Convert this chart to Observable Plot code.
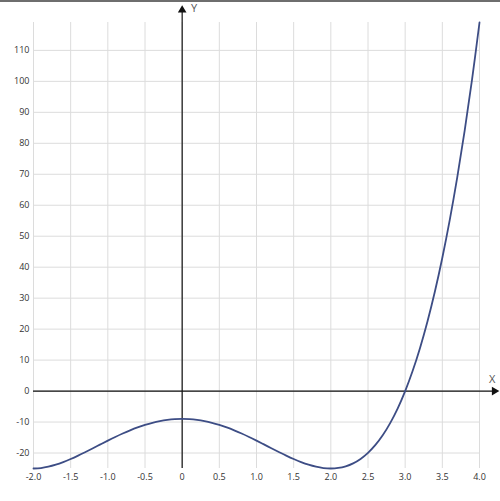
<!DOCTYPE html>
<html><head><meta charset="utf-8">
<script src="https://cdn.jsdelivr.net/npm/d3@7"></script>
<script src="https://cdn.jsdelivr.net/npm/@observablehq/plot@0.6"></script>
<style>
html,body{margin:0;padding:0;background:#fff;}
#chart{position:relative;width:500px;height:501px;overflow:hidden;}
#topline{position:absolute;left:0;top:0;width:500px;height:2px;background:#6e6e6e;z-index:5;}
</style></head><body><div id="chart"><div id="topline"></div></div>
<script>
const xValues = [-2,-1.9,-1.8,-1.7,-1.6,-1.5,-1.4,-1.3,-1.2,-1.1,-1,-0.9,-0.8,-0.7,-0.6,-0.5,-0.4,-0.3,-0.2,-0.1,0,
  0.1,0.2,0.3,0.4,0.5,0.6,0.7,0.8,0.9,1,1.1,1.2,1.3,1.4,1.5,1.6,1.7,1.8,1.9,2,
  2.1,2.2,2.3,2.4,2.5,2.6,2.7,2.8,2.9,3,3.1,3.2,3.3,3.4,3.5,3.6,3.7,3.8,3.9,4];
const yValues = [-25,-24.85,-24.42,-23.77,-22.93,-21.94,-20.84,-19.66,-18.45,-17.22,-16,-14.82,-13.71,-12.68,-11.75,-10.94,-10.25,-9.71,-9.32,-9.08,-9,
  -9.08,-9.32,-9.71,-10.25,-10.94,-11.75,-12.68,-13.71,-14.82,-16,-17.22,-18.45,-19.66,-20.84,-21.94,-22.93,-23.77,-24.42,-24.85,-25,
  -24.83,-24.29,-23.34,-21.9,-19.94,-17.38,-14.18,-10.25,-5.55,0,6.47,13.94,22.47,32.15,43.06,55.28,68.9,83.99,100.66,119];
const xTicks = [-2,-1.5,-1,-0.5,0,0.5,1,1.5,2,2.5,3,3.5,4];
const yTicks = [-20,-10,0,10,20,30,40,50,60,70,80,90,100,110];
const xDomain = [-2, 4];
const yDomain = [-25, 119];
const axisLabels = ["X", "Y"];

const curve = xValues.map((x, i) => ({x, y: yValues[i]}));
const fmtX = d => d === 0 ? "0" : d.toFixed(1);
const fmtY = d => String(d);

const plot = Plot.plot({
  width: 500,
  height: 501,
  marginLeft: 33,
  marginRight: 21,
  marginTop: 22,
  marginBottom: 33,
  x: {domain: xDomain, label: null},
  y: {domain: yDomain, label: null},
  style: {fontFamily: "'Open Sans', sans-serif", fontSize: "9px", color: "#333", background: "transparent"},
  marks: [
    Plot.ruleX(xTicks, {y1: yDomain[0], y2: yDomain[1], stroke: "#dcdcdc", strokeWidth: 1, strokeOpacity: 1}),
    Plot.ruleY(yTicks, {x1: xDomain[0], x2: xDomain[1], stroke: "#dcdcdc", strokeWidth: 1, strokeOpacity: 1}),
    Plot.axisX(xTicks, {tickSize: 0, tickPadding: 5, tickFormat: fmtX, fill: "#333", label: null}),
    Plot.axisY(yTicks, {tickSize: 0, tickPadding: 4, tickFormat: fmtY, fill: "#333", label: null}),
    Plot.ruleY([0], {x1: xDomain[0], x2: 4.18, stroke: "#111", strokeWidth: 1.2}),
    Plot.ruleX([0], {y1: yDomain[0], y2: 122.5, stroke: "#111", strokeWidth: 1.2}),
    Plot.dot([{x: 4.2, y: 0}], {x: "x", y: "y", symbol: "triangle", rotate: 90, r: 3.2, fill: "#111", stroke: null}),
    Plot.dot([{x: 0, y: 123}], {x: "x", y: "y", symbol: "triangle", r: 3.2, fill: "#111", stroke: null}),
    Plot.text([axisLabels[0]], {x: 4.17, y: 0, dy: -12, text: d => d, fontSize: 11, fill: "#555"}),
    Plot.text([axisLabels[1]], {x: 0, y: 123.5, dx: 12, text: d => d, fontSize: 11, fill: "#555"}),
    Plot.line(curve, {x: "x", y: "y", curve: "catmull-rom", stroke: "#3d4d85", strokeWidth: 1.8})
  ]
});
document.getElementById("chart").appendChild(plot);
</script>
</body></html>
